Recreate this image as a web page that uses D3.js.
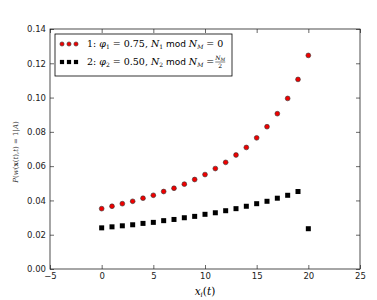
<!DOCTYPE html>
<html>
<head>
<meta charset="utf-8">
<script src="https://cdn.jsdelivr.net/npm/d3@7"></script>
<style>
body { margin: 0; background: #fff; }
svg { display: block; }
.tick text { font-family: "DejaVu Sans", sans-serif; font-size: 8.5px; fill: #222; }
.math { font-family: "DejaVu Serif", serif; font-style: italic; }
</style>
</head>
<body>
<div id="chart-area"></div>
<script>
// values
var xs = [0, 1, 2, 3, 4, 5, 6, 7, 8, 9, 10, 11, 12, 13, 14, 15, 16, 17, 18, 19, 20];
var series1 = [0.0352, 0.0366, 0.0381, 0.0395, 0.0413, 0.0430, 0.0452, 0.0471, 0.0495, 0.0522,
	0.0551, 0.0586, 0.0622, 0.0665, 0.0709, 0.0765, 0.0830, 0.0906, 0.0995, 0.1106, 0.1246];
var series2 = [0.0240, 0.0246, 0.0252, 0.0258, 0.0266, 0.0272, 0.0282, 0.0289, 0.0299, 0.0307,
	0.0319, 0.0328, 0.0340, 0.0352, 0.0366, 0.0381, 0.0395, 0.0413, 0.0430, 0.0452, 0.0235];
var xTicks = [-5, 0, 5, 10, 15, 20, 25];
var yTicks = [0, 0.02, 0.04, 0.06, 0.08, 0.10, 0.12, 0.14];

var margin = { left: 50, right: 17, top: 29, bottom: 31 };
var width = 377 - margin.left - margin.right,
	height = 300 - margin.top - margin.bottom;

var svg = d3.select("#chart-area")
	.append("svg")
		.attr("width", 377)
		.attr("height", 300);

var g = svg.append("g")
	.attr("transform", "translate(" + margin.left + ", " + margin.top + ")");

var x = d3.scaleLinear().domain([-5, 25]).range([0, width]);
var y = d3.scaleLinear().domain([0, 0.14]).range([height, 0]);

// axes, ticks pointing inward like matplotlib classic
var xAxisCall = d3.axisBottom(x).tickValues(xTicks).tickSizeInner(-4).tickSizeOuter(0).tickPadding(4)
	.tickFormat(function(d) { return d < 0 ? "\u2212" + Math.abs(d) : d; });
g.append("g").attr("class", "x axis")
	.attr("transform", "translate(0," + height + ")")
	.call(xAxisCall);

g.append("g").attr("class", "x axis top")
	.call(d3.axisTop(x).tickValues(xTicks).tickSizeInner(-4).tickSizeOuter(0).tickFormat(""));

var yAxisCall = d3.axisLeft(y).tickValues(yTicks).tickSizeInner(-4).tickSizeOuter(0).tickPadding(4)
	.tickFormat(d3.format(".2f"));
g.append("g").attr("class", "y axis").call(yAxisCall);

g.append("g").attr("class", "y axis right")
	.attr("transform", "translate(" + width + ",0)")
	.call(d3.axisRight(y).tickValues(yTicks).tickSizeInner(-4).tickSizeOuter(0).tickFormat(""));

g.selectAll(".domain").remove();
g.selectAll(".tick line").attr("stroke", "#000").attr("stroke-width", 0.6);

g.append("rect")
	.attr("width", width)
	.attr("height", height)
	.attr("fill", "none")
	.attr("stroke", "#222")
	.attr("stroke-width", 0.8);

// series 2: black squares
g.selectAll("rect.sq")
	.data(xs)
	.enter().append("rect")
		.attr("class", "sq")
		.attr("x", function(d) { return x(d) - 2.5; })
		.attr("y", function(d, i) { return y(series2[i]) - 2.5; })
		.attr("width", 5)
		.attr("height", 5)
		.attr("fill", "#000");

// series 1: red circles
g.selectAll("circle.pt")
	.data(xs)
	.enter().append("circle")
		.attr("class", "pt")
		.attr("cx", function(d) { return x(d); })
		.attr("cy", function(d, i) { return y(series1[i]); })
		.attr("r", 2.4)
		.attr("fill", "#f00000")
		.attr("stroke", "#333")
		.attr("stroke-width", 0.6);

// X label
svg.append("text")
	.attr("class", "math")
	.attr("x", margin.left + x(10))
	.attr("y", 295)
	.attr("font-size", "10.5px")
	.attr("text-anchor", "middle")
	.html("x<tspan font-size='7px' dy='2'>i</tspan><tspan dy='-2' font-style='normal'>(</tspan>t<tspan font-style='normal'>)</tspan>");

// Y label
svg.append("text")
	.attr("class", "math")
	.attr("transform", "translate(18," + (margin.top + height / 2 + 3) + ") rotate(-90)")
	.attr("font-size", "7px")
	.attr("fill", "#333")
	.attr("text-anchor", "middle")
	.html("P<tspan font-style='normal'>(</tspan>w<tspan font-style='normal'>(</tspan><tspan font-weight='bold' font-style='normal'>x</tspan><tspan font-style='normal'>(</tspan>t<tspan font-style='normal'>),</tspan>t<tspan font-style='normal'>) = 1|</tspan>A<tspan font-style='normal'>)</tspan>");

// Legend
var legend = g.append("g").attr("transform", "translate(5,5)");
legend.append("rect")
	.attr("width", 177)
	.attr("height", 42)
	.attr("fill", "#fff")
	.attr("stroke", "#000")
	.attr("stroke-width", 0.8);

var legendRows = [
	{ marker: "circle", label: "1: <tspan class='math'>φ</tspan><tspan font-size='6px' dy='2'>1</tspan><tspan dy='-2'> = 0.75, </tspan><tspan class='math'>N</tspan><tspan font-size='6px' dy='2'>1</tspan><tspan dy='-2' font-family='DejaVu Sans' font-size='9px'> mod </tspan><tspan class='math'>N</tspan><tspan class='math' font-size='6px' dy='2'>M</tspan><tspan dy='-2'> = 0</tspan>" },
	{ marker: "square", label: "2: <tspan class='math'>φ</tspan><tspan font-size='6px' dy='2'>2</tspan><tspan dy='-2'> = 0.50, </tspan><tspan class='math'>N</tspan><tspan font-size='6px' dy='2'>2</tspan><tspan dy='-2' font-family='DejaVu Sans' font-size='9px'> mod </tspan><tspan class='math'>N</tspan><tspan class='math' font-size='6px' dy='2'>M</tspan><tspan dy='-2'> = </tspan>" }
];

legendRows.forEach(function(row, i) {
	var legendRow = legend.append("g")
		.attr("transform", "translate(0," + (10 + i * 18) + ")");
	[7, 14, 21].forEach(function(mx) {
		if (row.marker === "circle") {
			legendRow.append("circle").attr("cx", mx).attr("cy", 0).attr("r", 2.1)
				.attr("fill", "#f00000").attr("stroke", "#333").attr("stroke-width", 0.6);
		} else {
			legendRow.append("rect").attr("x", mx - 2.1).attr("y", -2.1).attr("width", 4.2).attr("height", 4.2)
				.attr("fill", "#000");
		}
	});
	var t = legendRow.append("text")
		.attr("x", 32)
		.attr("y", 3)
		.attr("font-family", "DejaVu Serif, serif")
		.attr("font-size", "9.5px")
		.html(row.label);
	if (i === 1) {
		var bb = t.node().getBBox();
		var fx = bb.x + bb.width + 6;
		var fr = legendRow.append("g").attr("transform", "translate(" + fx + ",0)");
		fr.append("text").attr("class", "math").attr("text-anchor", "middle").attr("y", -2).attr("font-size", "6px")
			.html("N<tspan font-size='4.5px' dy='1'>M</tspan>");
		fr.append("line").attr("x1", -5).attr("x2", 5).attr("y1", 0).attr("y2", 0)
			.attr("stroke", "#000").attr("stroke-width", 0.5);
		fr.append("text").attr("text-anchor", "middle").attr("y", 6).attr("font-size", "6px")
			.attr("font-family", "DejaVu Serif, serif").text("2");
	}
});
</script>
</body>
</html>
